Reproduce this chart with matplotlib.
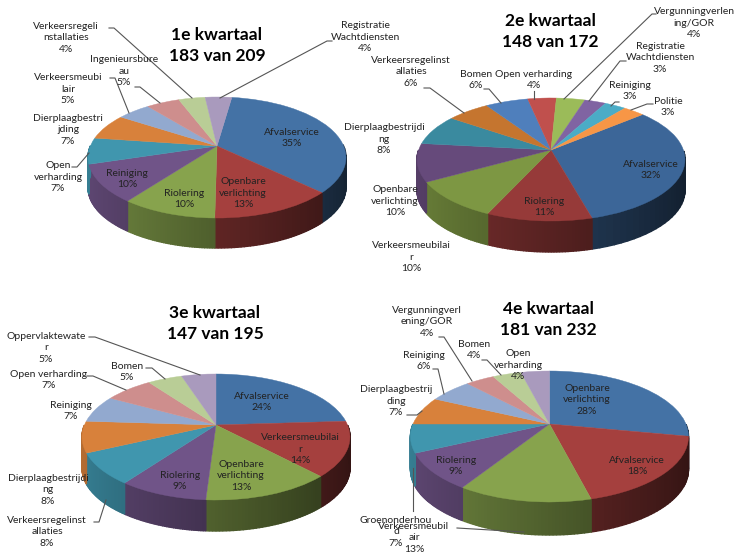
import numpy as np
from matplotlib import pyplot as plt
from matplotlib.colors import to_rgb
from matplotlib.transforms import Transform

plt.rcParams['font.family'] = ['Lato', 'DejaVu Sans']

# values in percent, clockwise from the first slice
labels_q1 = ["Afvalservice\n35%", "Openbare\nverlichting\n13%", "Riolering\n10%", "Reiniging\n10%",
             "Open\nverharding\n7%", "Dierplaagbestri\njding\n7%", "Verkeersmeubi\nlair\n5%",
             "Ingenieursbure\nau\n5%", "Verkeersregeli\nnstallaties\n4%", "Registratie\nWachtdiensten\n4%"]
values_q1 = [35, 13, 10, 10, 7, 7, 5, 5, 4, 4]

labels_q2 = ["Afvalservice\n32%", "Riolering\n11%", "Verkeersmeubilai\nr\n10%", "Openbare\nverlichting\n10%",
             "Dierplaagbestrijdi\nng\n8%", "Verkeersregelinst\nallaties\n6%", "Bomen\n6%", "Open verharding\n4%",
             "Vergunningverlen\ning/GOR\n4%", "Registratie\nWachtdiensten\n3%", "Reiniging\n3%", "Politie\n3%"]
values_q2 = [32, 11, 10, 10, 8, 6, 6, 4, 4, 3, 3, 3]

labels_q3 = ["Afvalservice\n24%", "Verkeersmeubilai\nr\n14%", "Openbare\nverlichting\n13%", "Riolering\n9%",
             "Verkeersregelinst\nallaties\n8%", "Dierplaagbestrijdi\nng\n8%", "Reiniging\n7%",
             "Open verharding\n7%", "Bomen\n5%", "Oppervlaktewate\nr\n5%"]
values_q3 = [24, 14, 13, 9, 8, 8, 7, 7, 5, 5]

labels_q4 = ["Openbare\nverlichting\n28%", "Afvalservice\n18%", "Verkeersmeubil\nair\n13%", "Riolering\n9%",
             "Groenonderhou\nd\n7%", "Dierplaagbestrij\nding\n7%", "Reiniging\n6%",
             "Vergunningverl\nening/GOR\n4%", "Bomen\n4%", "Open\nverharding\n4%"]
values_q4 = [28, 18, 13, 9, 7, 7, 6, 4, 4, 4]

titles = ["1e kwartaal\n183 van 209", "2e kwartaal\n148 van 172", "3e kwartaal\n147 van 195", "4e kwartaal\n181 van 232"]

colors_10 = ['#4472A5', '#A5403E', '#87A34D', '#705488', '#4096AE', '#D8813B',
             '#92A9CF', '#CE8E8D', '#B9CD96', '#A99ABD']
colors_12 = ['#3C6698', '#963A39', '#7D9743', '#664A7B', '#3A8A9F', '#C5752F',
             '#4F7FBC', '#C0504D', '#9BBB59', '#8064A2', '#4BACC6', '#F79646']


class PieTilt(Transform):
    # unit circle -> pixels, seen in perspective (far side shorter than near side)
    input_dims = 2
    output_dims = 2

    def __init__(self, cx, cy, rx, up, down):
        super().__init__()
        self.cx = cx
        self.cy = cy
        self.k = (down - up) / (down + up)
        self.a = up * (1 + self.k)
        self.r = rx * np.sqrt(1 - self.k ** 2)

    def transform_non_affine(self, values):
        xy = np.asarray(values)
        d = 1 + self.k * xy[:, 1]
        return np.column_stack((self.cx + self.r * xy[:, 0] / d, self.cy - self.a * xy[:, 1] / d))


fig = plt.figure(figsize=(7.35, 5.56), dpi=100)
ax = fig.add_axes([0, 0, 1, 1])


def drawPie(values, colors, rotation, cx, cy, rx, up, down, depth):
    wedges, _ = ax.pie(values, colors=colors, startangle=90 - rotation, counterclock=False,
                       wedgeprops={'linewidth': 0.3})
    tilt = PieTilt(cx, cy, rx, up, down)
    for wedge, color in zip(wedges, colors):
        wedge.set_edgecolor(color)
        wedge.set_transform(tilt + ax.transData)
        #side wall, darker towards the right
        steps = np.linspace(wedge.theta1, wedge.theta2, 40)
        base = np.array(to_rgb(color))
        for t0, t1 in zip(steps[:-1], steps[1:]):
            if np.sin(np.radians((t0 + t1) / 2)) >= 0:
                continue
            rim = np.radians([t0, t1])
            pts = tilt.transform_non_affine(np.column_stack((np.cos(rim), np.sin(rim))))
            shade = 0.58 - 0.27 * np.cos(rim.mean())
            xs = [pts[0, 0], pts[1, 0], pts[1, 0], pts[0, 0]]
            ys = [pts[0, 1], pts[1, 1], pts[1, 1] + depth, pts[0, 1] + depth]
            ax.fill(xs, ys, color=base * shade, linewidth=1.0, zorder=0.5)


drawPie(values_q1, colors_10, 8, 217, 146, 129, 49, 72, 30)
drawPie(values_q2, colors_12, 49.5, 551, 150, 134, 52, 71, 31)
drawPie(values_q3, colors_10, 0, 216, 425, 134, 51, 75, 31)
drawPie(values_q4, colors_10, 0, 549.5, 424, 139, 53, 78, 33)

ax.set_aspect('auto')
ax.set_xlim(0, 735)
ax.set_ylim(556, 0)
ax.axis('off')

# label centres in pixels, same order as the labels
pos_q1 = [(292, 138), (243, 193), (184, 199), (127, 179), (58, 177), (68, 130), (68, 89), (124, 71), (66, 38), (365, 37)]
pos_q2 = [(651, 170), (544, 207), (411, 257), (395, 201), (384, 139), (411, 72), (476, 80), (534, 80), (694, 23), (660, 58), (630, 91), (668, 107)]
pos_q3 = [(262, 402), (300, 449), (241, 476), (180, 481), (47, 532), (48, 490), (71, 411), (49, 380), (127, 372), (46, 348)]
pos_q4 = [(587, 400), (637, 466), (414, 538), (456, 466), (396, 532), (396, 401), (424, 361), (427, 322), (474, 350), (518, 365)]

for labels, positions in [(labels_q1, pos_q1), (labels_q2, pos_q2), (labels_q3, pos_q3), (labels_q4, pos_q4)]:
    for label, (x, y) in zip(labels, positions):
        ax.text(x, y, label, ha='center', va='center', fontsize=7.5, color='#222222', linespacing=1.38, zorder=4)

title_pos = [(217, 45.5), (550, 31.5), (215, 323.5), (548, 319.5)]
for title, (x, y) in zip(titles, title_pos):
    ax.text(x, y, title, ha='center', va='center', fontsize=12.5, fontweight='bold', color='black', linespacing=1.36, zorder=4)

leaders = [
    [(109, 28), (114, 28), (192, 98)], [(332, 41), (327, 41), (220, 98)], [(135, 87), (140, 87), (160, 103)],
    [(110, 78), (115, 78), (129, 113)], [(72, 167), (77, 167), (89, 153)],
    [(656, 14), (652, 14), (564, 99)], [(626, 61), (620, 61), (589, 101)], [(619, 102), (615, 102), (611, 106)],
    [(653, 104), (647, 104), (631, 110)], [(534, 91), (534, 99)], [(484, 89), (489, 89), (501, 103)],
    [(424, 88), (430, 88), (464, 113)],
    [(89, 337), (95, 337), (200, 375)], [(146, 368), (152, 368), (165, 379)], [(87, 376), (93, 376), (126, 390)],
    [(94, 522), (99, 522), (106, 500)],
    [(439, 337), (444, 337), (472, 381)], [(482, 360), (487, 360), (501, 375)], [(433, 369), (438, 369), (444, 394)],
    [(407, 415), (417, 415), (422, 411)], [(413, 468), (413, 511)], [(457, 528), (524, 532)],
]
for line in leaders:
    ax.plot([p[0] for p in line], [p[1] for p in line], color='#555555', linewidth=0.8, zorder=3)

fig.savefig('out.png', dpi=100)
